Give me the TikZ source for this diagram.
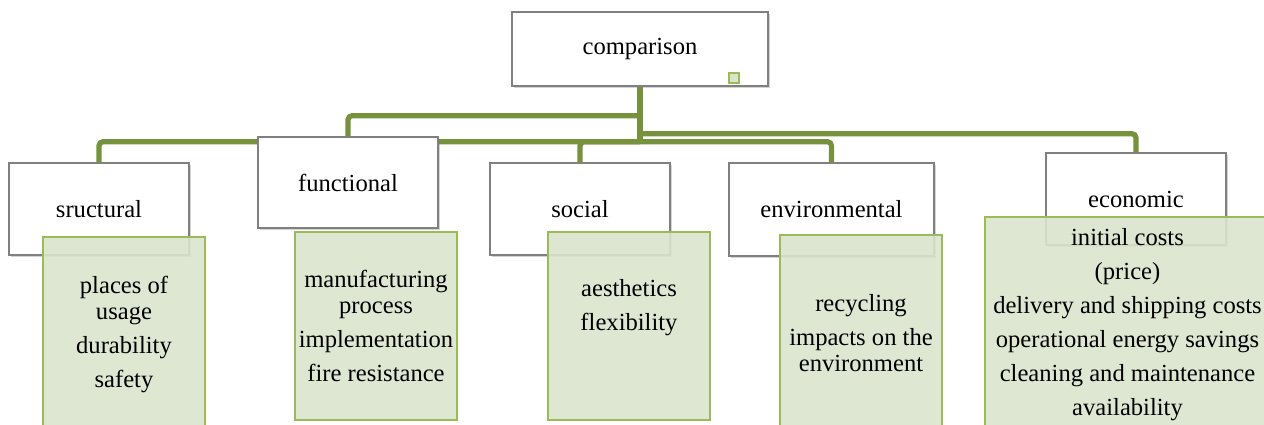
\documentclass[tikz,border=0pt]{standalone}
\usepackage{fontspec}
\setmainfont{Liberation Serif}
\usepackage{xcolor}
\usepackage{tikz}
\usetikzlibrary{shadows,backgrounds}

\definecolor{linkgreen}{RGB}{118,146,60}
\definecolor{boxgreen}{RGB}{155,187,89}
\definecolor{fillgreen}{RGB}{218,228,205}

\begin{document}
\begin{tikzpicture}[x=0.5pt,y=-0.5pt,
  font=\fontsize{12.3}{13}\selectfont,
  catbox/.style={draw=black!50, line width=0.7pt, fill=white, align=center,
    minimum width=90pt, minimum height=46pt, inner sep=0pt,
    drop shadow={shadow xshift=1.2pt, shadow yshift=-1.2pt, opacity=0.35}},
  itembox/.style={draw=boxgreen, line width=1pt, fill=fillgreen, fill opacity=0.9,
    text opacity=1, align=center, minimum width=81pt, inner sep=0pt},
  link/.style={draw=linkgreen, line width=2.6pt}]
\useasboundingbox (0,0) rectangle (1264,424);
\clip (0,0) rectangle (1264,424);

\node[catbox, minimum width=128pt, minimum height=37pt] (cmp) at (640,49) {comparison};
\node[draw=boxgreen, line width=1pt, fill=fillgreen, minimum size=5pt, inner sep=0pt] (cmp-sq) at (734,77.5) {};

\node[catbox] (str) at (99,209) {sructural};
\node[catbox, minimum height=45.5pt] (fun) at (348,182.5) {functional};
\node[catbox] (soc) at (580,209) {social};
\node[catbox, minimum width=102.5pt, minimum height=46.5pt] (env) at (831.5,209.5) {environmental};
\node[catbox] (eco) at (1136,199) {economic};

\node[itembox, minimum height=97.5pt] (str-list) at (124,334.5) {places of\\usage\\[4pt]durability\\[4pt]safety};
\node[itembox, minimum height=94pt] (fun-list) at (376,326) {manufacturing\\process\\[4pt]implementation\\[4pt]fire resistance};
\node[itembox, minimum height=94pt] (soc-list) at (629,326) {aesthetics\\[4pt]flexibility\\[4pt]\strut};
\node[itembox, minimum height=98.5pt] (env-list) at (861,333.5) {recycling\\[4pt]impacts on the\\environment};
\node[itembox, minimum width=142.5pt, minimum height=107.5pt] (eco-list) at (1127.5,324.5) {initial costs\\[4pt](price)\\[4pt]delivery and shipping costs\\[4pt]operational energy savings\\[4pt]cleaning and maintenance\\[4pt]availability};

\begin{scope}[on background layer]
\coordinate (hub-a) at ([yshift=-14.5pt]cmp.south);
\coordinate (hub-b) at ([yshift=-23.5pt]cmp.south);
\coordinate (hub-c) at ([yshift=-27.5pt]cmp.south);
\draw[link] (cmp.south) -- (hub-c);
\draw[link, rounded corners=2pt] (hub-a) -| (fun.north);
\draw[link, rounded corners=2pt] (hub-c) -| (str.north);
\draw[link, rounded corners=2pt] (hub-c) -| (soc.north);
\draw[link, rounded corners=2pt] (hub-c) -| (env.north);
\draw[link, rounded corners=2pt] (hub-b) -| (eco.north);
\end{scope}
\end{tikzpicture}
\end{document}
